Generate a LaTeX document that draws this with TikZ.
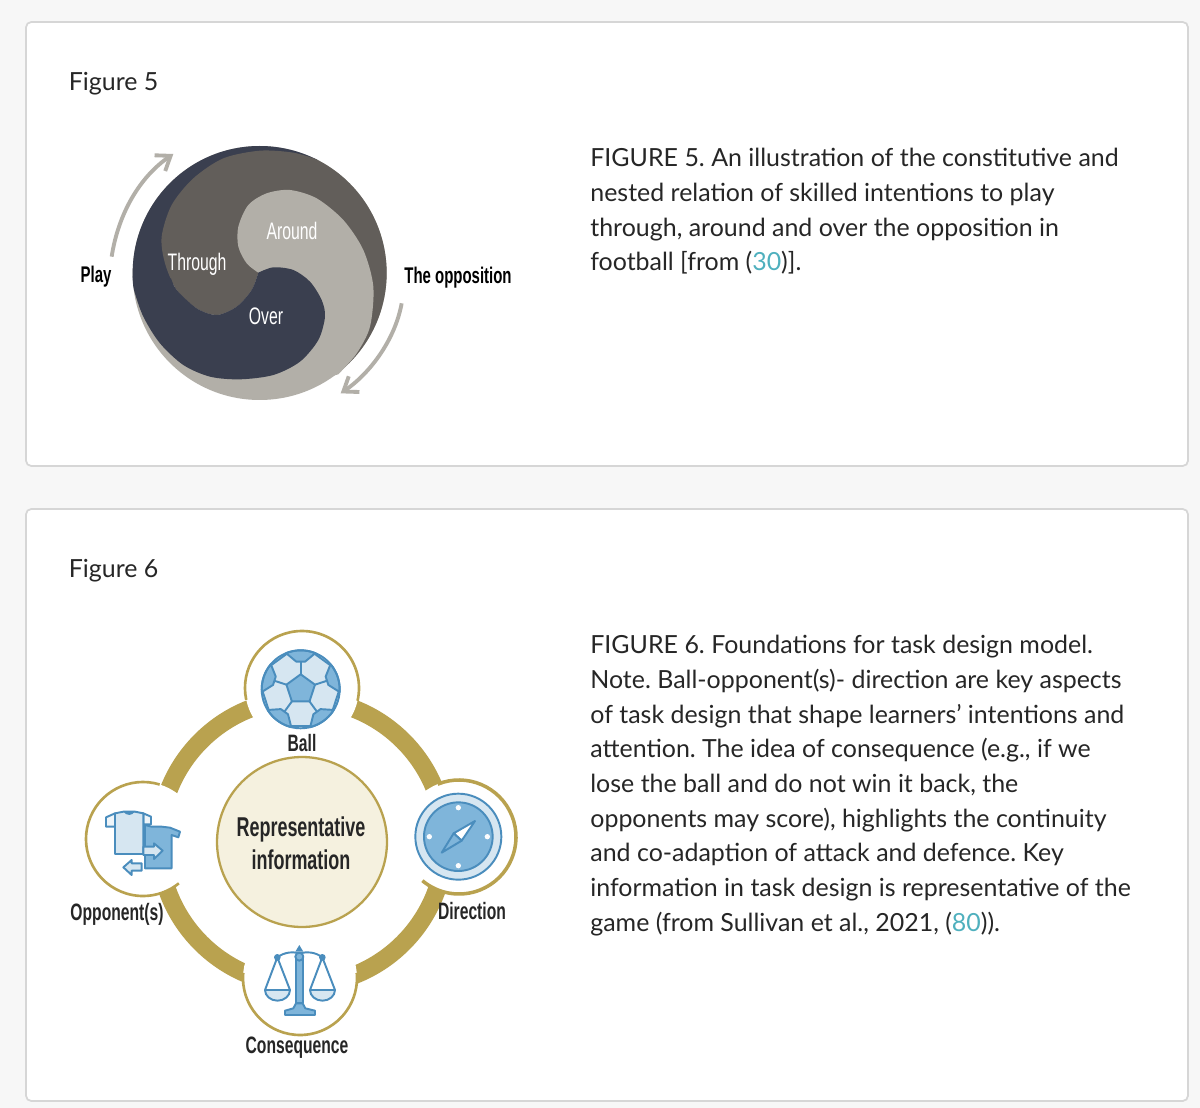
\documentclass[tikz,border=0pt]{standalone}
\usepackage{fontspec}
\usepackage{xcolor}
\usetikzlibrary{arrows.meta,positioning,calc}
\setmainfont{Lato}
\newfontfamily\labelfont[FakeStretch=0.66]{Liberation Sans}
\definecolor{PageBg}{HTML}{F7F7F7}
\definecolor{CardStroke}{HTML}{D6D6D6}
\definecolor{InkText}{HTML}{262626}
\definecolor{LinkTeal}{HTML}{4FB0BE}
\definecolor{Navy}{HTML}{3A3F4F}
\definecolor{Umber}{HTML}{625E5A}
\definecolor{Stone}{HTML}{B2AFA8}
\definecolor{Gold}{HTML}{B9A24F}
\definecolor{Cream}{HTML}{F5F1DF}
\definecolor{IconLine}{HTML}{4A8DBD}
\definecolor{IconMid}{HTML}{7FB5DA}
\definecolor{IconPale}{HTML}{D6E6F1}

\begin{document}
\frenchspacing
\begin{tikzpicture}[x=0.02cm, y=-0.02cm,
  card/.style={draw=CardStroke, line width=1pt, fill=white, rounded corners=3pt},
  figtitle/.style={anchor=west, inner sep=0, text=InkText, font=\fontsize{14.2}{17}\selectfont},
  caption/.style={anchor=north west, inner sep=0, align=left, text=InkText, font=\fontsize{14.2}{19.75}\selectfont},
  swirllabel/.style={inner sep=0, text=white, font=\labelfont\fontsize{13.6}{15}\selectfont},
  sidelabel/.style={inner sep=0, text=black, font=\labelfont\bfseries\fontsize{12.9}{15}\selectfont},
  iconlabel/.style={inner sep=0, text=black!85, font=\labelfont\bfseries\fontsize{13.5}{15}\selectfont},
  flowarrow/.style={draw=Stone, line width=2.2pt, -{Straight Barb[length=2.6mm,width=3.8mm]}},
  iconnode/.style={circle, fill=white, inner sep=0, minimum size=2.28cm},
  goldarc/.style={draw=Gold, line width=1.5pt},
  iconstroke/.style={draw=IconLine, line width=1.1pt, line join=round}]
  \useasboundingbox (0,0) rectangle (1200,1108);
  \fill[PageBg] (0,0) rectangle (1200,1108);

  \draw[card] (26,22) rectangle (1188,466);
  \draw[card] (26,509) rectangle (1188,1101);

  \node[figtitle] (title5) at (68.5,84) {Figure 5};
  \node[figtitle] (title6) at (68.5,571) {Figure 6};

  \node[caption] (caption5) at (590,148) {FIGURE 5. An illustration of the constitutive and\\
    nested relation of skilled intentions to play\\
    through, around and over the opposition in\\
    football [from (\textcolor{LinkTeal}{30})].};
  \node[caption] (caption6) at (590,635) {FIGURE 6. Foundations for task design model.\\
    Note. Ball-opponent(s)- direction are key aspects\\
    of task design that shape learners' intentions and\\
    attention. The idea of consequence (e.g., if we\\
    lose the ball and do not win it back, the\\
    opponents may score), highlights the continuity\\
    and co-adaption of attack and defence. Key\\
    information in task design is representative of the\\
    game (from Sullivan et al., 2021, (\textcolor{LinkTeal}{80})).};

  % swirl disc
  \begin{scope}[shift={(60,130)}, scale=1/3]
    \fill[Stone] (599,429) circle[radius=381];
    \fill[Navy] ([shift={(599,429)}]178:381) arc[start angle=178, end angle=297, radius=381] -- (599,429) -- (400,470) -- cycle;
    \fill[Umber] ([shift={(599,429)}]51:381) arc[start angle=51, end angle=-63.4, radius=381]
      -- plot[smooth] coordinates {(770,88) (700,68) (600,62) (490,85) (400,145) (335,225) (305,320) (315,400) (350,480) (410,535) (470,555) (530,530) (575,480) (595,428)}
      -- (750,350) -- (880,450) -- (880,600) -- cycle;
    \fill[Stone] plot[smooth] coordinates {(595,428) (560,400) (535,350) (535,290) (565,225) (620,190) (690,180) (770,205) (850,270) (910,360) (940,470) (930,590) (890,670) (835,733)}
      -- (700,770) -- (600,730) -- cycle;
    \fill[Navy] plot[smooth] coordinates {(595,428) (640,412) (700,420) (750,455) (785,510) (795,560) (775,630) (720,695) (640,735) (540,748) (450,740) (370,705) (300,640) (250,560) (222,480) (218,440)}
      -- (333,445) -- plot[smooth] coordinates {(333,445) (350,480) (410,535) (470,555) (530,530) (575,480) (595,428)} -- cycle;
    \coordinate (playStart) at (155,380);
    \coordinate (playEnd) at (340,72);
    \coordinate (oppStart) at (1025,520);
    \coordinate (oppEnd) at (842,790);
    \draw[flowarrow] (playStart) .. controls (175,250) and (240,140) .. (playEnd);
    \draw[flowarrow] (oppStart) .. controls (1005,630) and (930,730) .. (oppEnd);
  \end{scope}

  \node[sidelabel] (play) at (96,277) {Play};
  \node[sidelabel] (opposition) at (458,278) {The opposition};
  \node[swirllabel] (through) at (197,264) {Through};
  \node[swirllabel] (around) at (292,231) {Around};
  \node[swirllabel] (over) at (266,316) {Over};

  % ring and its four stations
  \draw[Gold, line width=0.36cm] (302,842) circle[radius=143];
  \node[iconnode] (ball) at (302,688) {};
  \node[iconnode] (direction) at (459,837) {};
  \node[iconnode] (opponent) at (143,839) {};
  \node[iconnode] (consequence) at (300,978) {};
  \draw[goldarc] ($(ball)+(168:57)$) arc[start angle=168, end angle=373, radius=57];
  \draw[goldarc, line width=2pt] ($(direction)+(248:57)$) arc[start angle=248, end angle=490, radius=57];
  \draw[goldarc] ($(opponent)+(287:57)$) arc[start angle=287, end angle=51, radius=57];
  \draw[goldarc] ($(consequence)+(185:57)$) arc[start angle=185, end angle=-5, radius=57];

  \node[circle, draw=Gold, line width=1.3pt, fill=Cream, minimum size=3.4cm, inner sep=0] (centre) at (302,842) {};
  \node[iconlabel, font=\labelfont\bfseries\fontsize{15.5}{18}\selectfont] (repr) at (301,829) {Representative};
  \node[iconlabel, font=\labelfont\bfseries\fontsize{15.5}{18}\selectfont] (info) at (301,860) {information};

  \node[iconlabel] (balllabel) at (302,743) {Ball};
  \node[iconlabel] (opplabel) at (117,914) {Opponent(s)};
  \node[iconlabel] (dirlabel) at (472,911) {Direction};
  \node[iconlabel] (conslabel) at (297,1048) {Consequence};

  % ball icon
  \begin{scope}[shift={(300.7,689.3)}]
    \fill[IconPale] (0,0) circle[radius=39];
    \foreach \a in {-90,-18,54,126,198} {
      \draw[iconstroke] (\a:15) -- (\a:28);
      \draw[iconstroke] (\a+22:38) -- (\a+50:38);
      \filldraw[iconstroke, fill=IconMid] (\a-22:39) arc[start angle=\a-22, end angle=\a+22, radius=39] -- (\a+9:28) -- (\a-9:28) -- cycle;
    }
    \filldraw[iconstroke, fill=IconMid] (-90:15) -- (-18:15) -- (54:15) -- (126:15) -- (198:15) -- cycle;
    \draw[iconstroke] (0,0) circle[radius=39];
  \end{scope}

  % shirts icon
  \begin{scope}[shift={(80,780)}, scale=1/3]
    \filldraw[iconstroke, fill=IconMid] (195,135) -- (215,140) -- (245,140) -- (270,143) -- (300,155) -- (295,172) -- (275,165) -- (275,265) -- (195,265) -- cycle;
    \filldraw[iconstroke, fill=white!60!IconPale] (78,112) -- (105,100) -- (105,140) -- (78,140) -- cycle;
    \filldraw[iconstroke, fill=white!60!IconPale] (190,100) -- (213,110) -- (213,133) -- (190,133) -- cycle;
    \filldraw[iconstroke, fill=IconPale] (105,100) -- (130,95) -- (165,95) -- (190,100) -- (190,222) -- (105,222) -- cycle;
    \fill[IconLine] (130,95) .. controls (140,108) and (155,108) .. (165,95) -- cycle;
    \filldraw[iconstroke, fill=IconPale] (190,200) -- (222,200) -- (222,190) -- (248,212) -- (222,237) -- (222,225) -- (190,225) -- cycle;
    \filldraw[iconstroke, fill=IconPale] (130,262) -- (155,240) -- (155,250) -- (185,250) -- (185,272) -- (155,272) -- (155,285) -- cycle;
  \end{scope}

  % compass icon
  \begin{scope}[shift={(405,780)}, scale=1/3]
    \filldraw[iconstroke, fill=IconPale] (160,170) circle[radius=129];
    \filldraw[iconstroke, fill=IconMid] (160,170) circle[radius=103];
    \foreach \a in {0,90,180,270} {
      \fill[white!90!IconPale] ([shift={(160,170)}]\a:87) circle[radius=8];
    }
    \filldraw[iconstroke, fill=white] (210,123) -- (170,182) -- (146,160) -- cycle;
    \filldraw[iconstroke, fill=IconMid] (110,218) -- (146,160) -- (170,182) -- cycle;
  \end{scope}

  % scales icon
  \begin{scope}[shift={(60,840)}, scale=1/3]
    \draw[iconstroke] (652,352) .. controls (675,335) and (700,335) .. (718,340) .. controls (740,335) and (765,335) .. (787,352);
    \filldraw[iconstroke, fill=IconMid] (708,350) -- (728,350) -- (728,490) -- (708,490) -- cycle;
    \filldraw[iconstroke, fill=IconMid] (675,525) -- (675,512) -- (700,505) -- (708,490) -- (728,490) -- (736,505) -- (765,512) -- (765,525) -- cycle;
    \fill[IconLine] (718,315) -- (730,335) -- (706,335) -- cycle;
    \filldraw[iconstroke, fill=IconMid] (718,350) circle[radius=12];
    \draw[iconstroke] (615,450) -- (652,352) -- (690,450);
    \draw[iconstroke] (750,450) -- (787,352) -- (825,450);
    \filldraw[iconstroke, fill=IconPale] (615,450) -- (690,450) arc[start angle=0, end angle=180, x radius=37.5, y radius=32] -- cycle;
    \filldraw[iconstroke, fill=IconPale] (750,450) -- (825,450) arc[start angle=0, end angle=180, x radius=37.5, y radius=32] -- cycle;
    \fill[IconLine] (652,352) circle[radius=10];
    \fill[IconLine] (787,352) circle[radius=10];
  \end{scope}
\end{tikzpicture}
\end{document}
